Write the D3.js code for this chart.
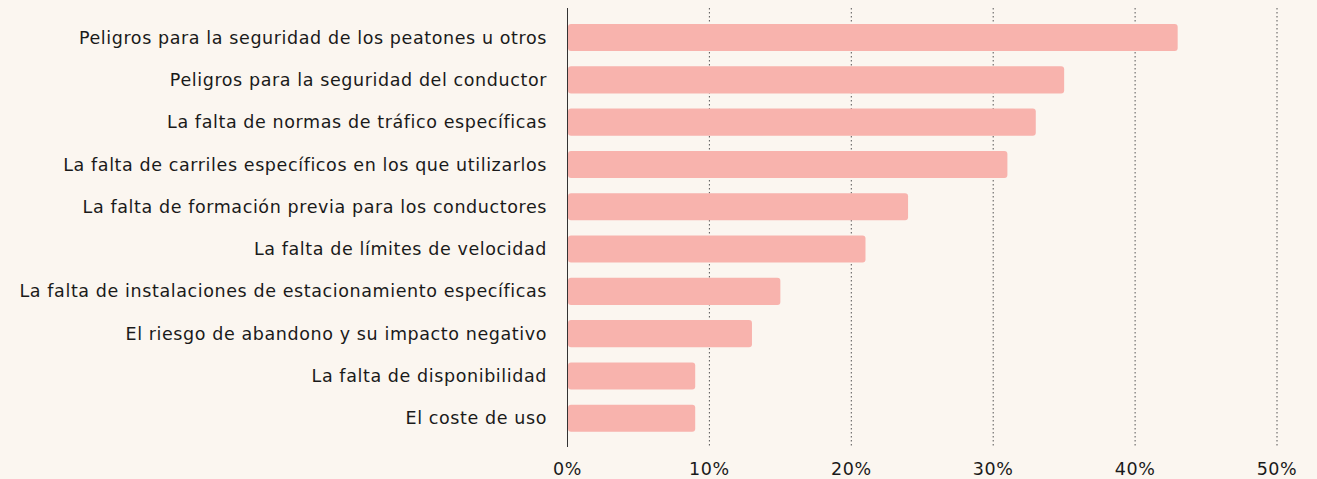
<!DOCTYPE html>
<html>
<head>
<meta charset="utf-8">
<script src="https://cdn.jsdelivr.net/npm/d3@7"></script>
<style>
  html, body { margin: 0; padding: 0; background: #fbf6f0; }
  svg { display: block; }
  text { font-family: "DejaVu Sans", "Noto Sans", sans-serif; fill: #1a1a1a; }
</style>
</head>
<body>
<svg id="chart"></svg>
<script>
const categories = [
  'Peligros para la seguridad de los peatones u otros',
  'Peligros para la seguridad del conductor',
  'La falta de normas de tráfico específicas',
  'La falta de carriles específicos en los que utilizarlos',
  'La falta de formación previa para los conductores',
  'La falta de límites de velocidad',
  'La falta de instalaciones de estacionamiento específicas',
  'El riesgo de abandono y su impacto negativo',
  'La falta de disponibilidad',
  'El coste de uso',
];
const values = [43, 35, 33, 31, 24, 21, 15, 13, 9, 9];
const ticks = [0, 10, 20, 30, 40, 50];

const width = 1317, height = 479;
const svg = d3.select('#chart').attr('width', width).attr('height', height);

const x = d3.scaleLinear().domain([0, 50]).range([567.5, 1277]);
const y = d3
  .scaleBand()
  .domain(categories)
  .range([16.4, 439.4])
  .paddingInner(0.36)
  .paddingOuter(0.18);

// dotted gridlines
svg
  .append('g')
  .selectAll('line')
  .data(ticks.slice(1))
  .join('line')
  .attr('x1', (d) => x(d))
  .attr('x2', (d) => x(d))
  .attr('y1', 8)
  .attr('y2', 447)
  .attr('stroke', '#555')
  .attr('stroke-width', 1)
  .attr('stroke-dasharray', '1.5,2.5');

// bars
svg
  .append('g')
  .selectAll('rect')
  .data(values)
  .join('rect')
  .attr('x', x(0) + 0.5)
  .attr('y', (d, i) => y(categories[i]))
  .attr('width', (d) => x(d) - x(0) - 0.5)
  .attr('height', y.bandwidth())
  .attr('rx', 3)
  .attr('fill', '#f8b3ad');

// axis line
svg
  .append('line')
  .attr('x1', x(0))
  .attr('x2', x(0))
  .attr('y1', 8)
  .attr('y2', 447)
  .attr('stroke', '#333')
  .attr('stroke-width', 1);

// category labels
svg
  .append('g')
  .selectAll('text')
  .data(categories)
  .join('text')
  .attr('x', 547)
  .attr('y', (d) => y(d) + y.bandwidth() / 2)
  .attr('dy', '0.35em')
  .attr('text-anchor', 'end')
  .attr('font-size', 17.5)
  .attr('letter-spacing', 0.6)
  .text((d) => d);

// tick labels
svg
  .append('g')
  .selectAll('text')
  .data(ticks)
  .join('text')
  .attr('x', (d) => x(d))
  .attr('y', 475)
  .attr('text-anchor', 'middle')
  .attr('font-size', 17.5)
  .attr('letter-spacing', 0.6)
  .text((d) => d + '%');
</script>
</body>
</html>
